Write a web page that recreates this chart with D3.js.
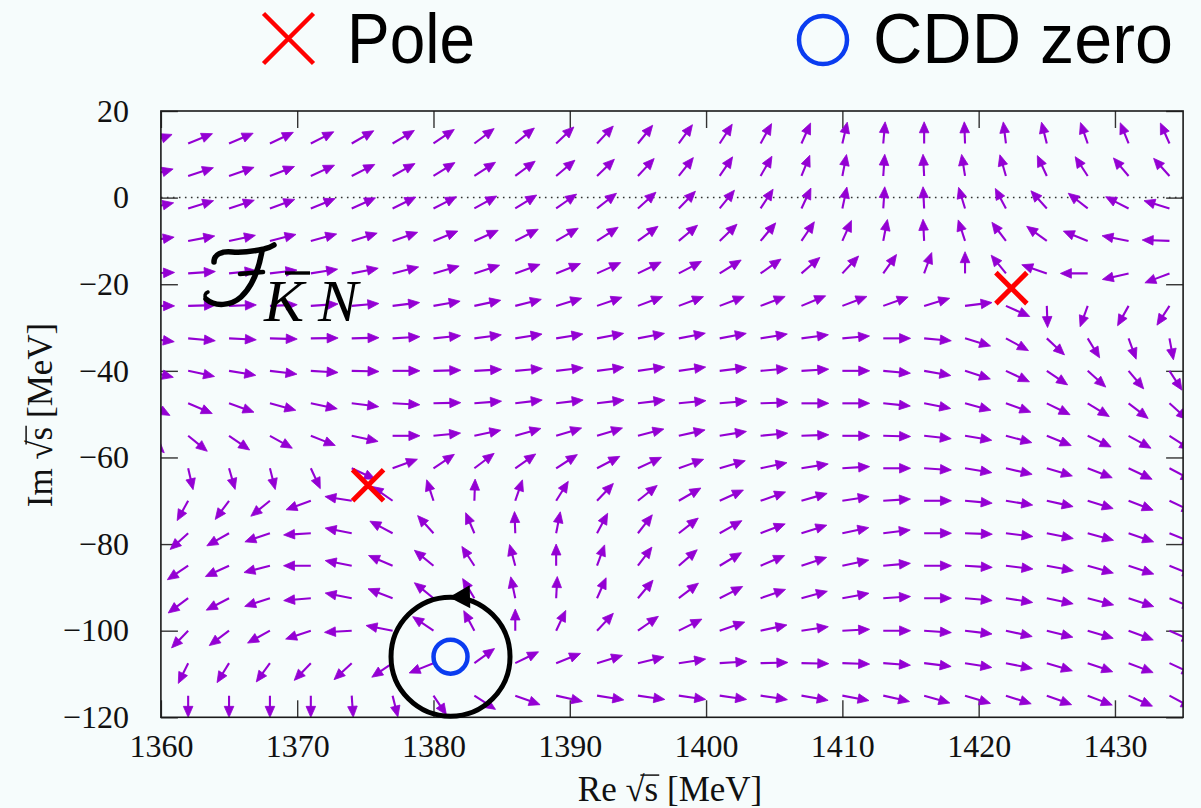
<!DOCTYPE html>
<html>
<head>
<meta charset="utf-8">
<script src="https://cdn.jsdelivr.net/npm/d3@7"></script>
<style>
  html, body { margin: 0; padding: 0; background: #f6fcfc; }
  svg { display: block; }
</style>
</head>
<body>
<svg id="chart" width="1201" height="808"></svg>
<script>
// ---- sample grid of the phase map (MeV) ----
const reGrid = [1359, 1362, 1365, 1368, 1371, 1374, 1377, 1380, 1383, 1386, 1389, 1392, 1395,
                1398, 1401, 1404, 1407, 1410, 1413, 1416, 1419, 1422, 1425, 1428, 1431, 1434];
const imGrid = [12.5, 5, -2.5, -10, -17.5, -25, -32.5, -40, -47.5, -55, -62.5, -70, -77.5,
                -85, -92.5, -100, -107.5, -115];

// arrow direction (degrees, counter-clockwise from +Re), one row per imGrid value
const arrowDeg = [
  [20, 22, 23, 25.5, 27, 30, 31, 34, 37, 39, 43, 47, 51, 54, 57, 61, 66, 77, 85, 90, 92, 97, 104, 109, 112, 114],
  [15, 18, 19, 21, 24.5, 26.6, 29, 32, 33, 36.6, 40, 44, 47, 51.6, 56, 60, 68, 79, 86, 93, 99, 106, 115, 123, 130, 132],
  [12, 17, 18, 20, 22, 24, 26, 27, 29, 32, 35, 38, 42, 46, 51, 57, 65, 78, 86, 93, 107, 118, 132, 142, 153, 163],
  [8, 10.6, 12, 14, 15, 17, 19, 22, 24, 27, 30, 33, 36, 40, 44, 50, 56, 66, 79, 93, 108, 127, 144, 158, 169, 178],
  [2, 4, 6, 7, 9, 11, 14, 16, 18, 20, 22, 24.5, 26, 28, 32, 35, 41, 47, 55, 70, 90, 129, 161, 180, -167, -159],
  [0, 1.5, 2, 2.5, 4, 5, 7, 10, 12, 14, 16.6, 19, 20.5, 20.5, 21, 21, 22.5, 21, 19.6, 16.6, 7, -24, -88, -110, -119, -123],
  [-7, -5, -3, -1.5, 0.7, 1.4, 3.5, 5.7, 7.4, 9, 9.3, 10.6, 10.6, 11, 10.6, 9.2, 7.6, 5, 0, -5, -16.6, -28.5, -43, -58.5, -70, -79.5],
  [-14, -12, -9.5, -7, -3.5, -1.4, 0, 1.4, 3, 5, 6.5, 7.5, 8, 8, 7, 5, 3.5, 0, -5, -10, -17.7, -25, -34, -42, -50, -57],
  [-28, -23, -19.6, -15, -11.6, -7, -3, 1.4, 4.5, 7, 7, 7, 7, 5.6, 4.8, 2, 0, 0, -5.7, -11, -15, -19.6, -26, -31.5, -37.7, -42],
  [-45, -39, -34.6, -29, -21.5, -12, 0, 5.7, 12, 16, 17, 17, 14.6, 12.7, 9.2, 5.5, 2, 0, -1.4, -6, -9.5, -14.7, -21.8, -25.5, -29, -33],
  [-80, -77, -74, -76, -65, -25, 20, 33.7, 37, 35, 32.8, 27.6, 25, 19.8, 16.4, 12, 9.2, 3.5, 0, -3.6, -9.2, -13, -16.6, -21, -25, -28],
  [-115, -119, -126.5, -141, -160, 171, 145, 108, 88, 71, 58, 46.7, 38.5, 30, 24.3, 19.3, 16, 9, 3.5, 0, -5, -9.2, -12.5, -17, -21, -25],
  [-130, -138, -150.5, -161, -176.5, 169, 152, 132, 113, 92, 79, 62, 52, 38, 29.6, 20.8, 17.7, 12, 7, 0, -2, -7, -11.3, -15.3, -19, -22],
  [-140, -146, -155.4, -165.4, 180, 169, 157, 141, 123, 105, 90, 70, 53, 41, 31, 23, 18.4, 12, 5, 0, -3.5, -7, -10.6, -16, -18.4, -22],
  [-138, -143.5, -152.4, -162, -175, 169, 159, 141, 121, 102, 87, 66, 50, 37.5, 27, 19.4, 15, 10.5, 3.6, 0, -5, -9, -12, -14.5, -18.4, -22],
  [-130, -134, -143, -151, -161.6, -176.5, 169, 146, 118, 90, 64.6, 46.8, 35, 26.6, 18.9, 12.3, 8.5, 2.8, 0, -4, -7, -12.5, -14, -16.6, -20.5, -24],
  [-112, -116, -121.7, -126, -134, -137, -146, -158, 36, 26, 21.8, 17, 13.5, 8.7, 3.6, 1.4, -1, -2, -4.3, -7, -9.2, -11.6, -16.6, -19, -21, -25],
  [-90, -90, -90, -90, -90, -86, -76, -56, -33, -20, -12.5, -9, -8, -8, -8, -8.5, -10, -10.5, -12.7, -16, -17, -17.8, -20, -21, -23.7, -28]
];

// singularities of the amplitude
const poles = [{ re: 1375.2, im: -66.4 }, { re: 1422.4, im: -20.9 }];
const cddZeros = [{ re: 1381.25, im: -106.0 }];

const xTicks = [1360, 1370, 1380, 1390, 1400, 1410, 1420, 1430];
const yTicks = [20, 0, -20, -40, -60, -80, -100, -120];
const xDomain = [1360, 1435];
const yDomain = [-120, 20];

// ---- layout ----
const plot = { left: 160.9, right: 1183.1, top: 111, bottom: 717.3 };
const ARROW = "#9400d3";
const serif = "'Liberation Serif', 'Times New Roman', serif";
const sans = "'Liberation Sans', Arial, Helvetica, sans-serif";

const svg = d3.select("#chart");
svg.append("rect").attr("width", 1201).attr("height", 808).attr("fill", "#f6fcfc");

const x = d3.scaleLinear().domain(xDomain).range([plot.left, plot.right]);
const y = d3.scaleLinear().domain(yDomain).range([plot.bottom, plot.top]);

svg.append("clipPath").attr("id", "plotClip")
  .append("rect")
  .attr("x", plot.left).attr("y", plot.top)
  .attr("width", plot.right - plot.left).attr("height", plot.bottom - plot.top);

// ---- axes (ticks inside on all four sides) ----
const TICK = 17;
const fmt = d3.format("d");
const axisStyle = g => {
  g.select(".domain").remove();
  g.selectAll(".tick line").attr("stroke", "#333").attr("stroke-width", 1.4);
  g.selectAll(".tick text").attr("font-family", serif).attr("font-size", 32).attr("fill", "#111");
};

svg.append("g").attr("transform", `translate(0,${plot.bottom})`)
  .call(d3.axisBottom(x).tickValues(xTicks).tickFormat(fmt).tickSizeInner(-TICK).tickSizeOuter(0).tickPadding(17))
  .call(axisStyle);
svg.append("g").attr("transform", `translate(0,${plot.top})`)
  .call(d3.axisTop(x).tickValues(xTicks).tickFormat("").tickSizeInner(-TICK).tickSizeOuter(0))
  .call(axisStyle);
svg.append("g").attr("transform", `translate(${plot.left},0)`)
  .call(d3.axisLeft(y).tickValues(yTicks).tickFormat(fmt).tickSizeInner(-TICK).tickSizeOuter(0).tickPadding(32))
  .call(axisStyle);
svg.append("g").attr("transform", `translate(${plot.right},0)`)
  .call(d3.axisRight(y).tickValues(yTicks).tickFormat("").tickSizeInner(-TICK).tickSizeOuter(0))
  .call(axisStyle);

// zero line
svg.append("line")
  .attr("x1", x(xDomain[0])).attr("x2", x(xDomain[1]))
  .attr("y1", y(0)).attr("y2", y(0))
  .attr("stroke", "#333").attr("stroke-width", 1.5).attr("stroke-dasharray", "1.6,4.4");

// ---- phase arrows ----
const field = [];
imGrid.forEach((im, j) => reGrid.forEach((re, k) => field.push({ re, im, deg: arrowDeg[j][k] })));

const AX = 27.3, AY = 21.7;         // arrow reach along Re / Im on the page
const HEAD = 11, HALF = 4.8;
const arrows = svg.append("g").attr("clip-path", "url(#plotClip)");
field.forEach(d => {
  const t = d.deg * Math.PI / 180;
  const c = Math.cos(t), s = Math.sin(t);
  const len = AX * AY / Math.sqrt((AY * c) ** 2 + (AX * s) ** 2);
  const x0 = x(d.re), y0 = y(d.im);
  const ux = c, uy = -s;
  const x1 = x0 + len * ux, y1 = y0 + len * uy;
  const bx = x1 - HEAD * ux, by = y1 - HEAD * uy;
  arrows.append("line")
    .attr("x1", x0).attr("y1", y0).attr("x2", bx + 2 * ux).attr("y2", by + 2 * uy)
    .attr("stroke", ARROW).attr("stroke-width", 2.1);
  arrows.append("path")
    .attr("d", `M${x1},${y1}L${bx - HALF * uy},${by + HALF * ux}L${bx + HALF * uy},${by - HALF * ux}Z`)
    .attr("fill", ARROW).attr("stroke", ARROW).attr("stroke-width", 0.8).attr("stroke-linejoin", "round");
});

// frame
svg.append("rect")
  .attr("x", plot.left).attr("y", plot.top)
  .attr("width", plot.right - plot.left).attr("height", plot.bottom - plot.top)
  .attr("fill", "none").attr("stroke", "#1a1a1a").attr("stroke-width", 1.6);

// ---- label of the amplitude: calligraphic F with subscript K-bar N ----
const fl = svg.append("g").attr("fill", "none").attr("stroke", "#000").attr("stroke-linecap", "round");
// swash top stroke
fl.append("path").attr("d", "M214,262 C214,254 222,251 232,252 C244,253 255,251 264,249 C268,248 271,247 274,245")
  .attr("stroke-width", 5.5);
// stem sweeping down to the left
fl.append("path").attr("d", "M262,251 C259,268 253,286 241,297 C231,306 215,307 206,299")
  .attr("stroke-width", 5.5);
fl.append("path").attr("d", "M206,299 C204,296 205,293 208,292").attr("stroke-width", 3.5);
// cross stroke
fl.append("path").attr("d", "M240,274 L263,272").attr("stroke-width", 4.5);

svg.append("text").attr("x", 264).attr("y", 321)
  .attr("font-family", serif).attr("font-style", "italic").attr("font-size", 60)
  .attr("fill", "#000").text("K");
svg.append("text").attr("x", 318).attr("y", 321)
  .attr("font-family", serif).attr("font-style", "italic").attr("font-size", 60)
  .attr("fill", "#000").text("N");
svg.append("line").attr("x1", 285).attr("x2", 310).attr("y1", 273).attr("y2", 273)
  .attr("stroke", "#000").attr("stroke-width", 3.4);

// ---- winding contour around the CDD zero ----
const z0 = cddZeros[0];
const cx = x(z0.re), cy = y(z0.im), R = 59.5;
svg.append("circle").attr("cx", cx).attr("cy", cy).attr("r", R)
  .attr("fill", "none").attr("stroke", "#000").attr("stroke-width", 5);
{
  const a = 91.5 * Math.PI / 180;
  const px = cx + R * Math.cos(a), py = cy - R * Math.sin(a);
  const tx = -Math.sin(a), ty = -Math.cos(a);      // counter-clockwise tangent
  const L = 21, W = 11.5;
  const bx = px - L * tx, by = py - L * ty;
  svg.append("path")
    .attr("d", `M${px},${py}L${bx - W * ty},${by + W * tx}L${bx + W * ty},${by - W * tx}Z`)
    .attr("fill", "#000");
}

// ---- markers ----
const crossPath = (cx, cy, r) => `M${cx - r},${cy - r}L${cx + r},${cy + r}M${cx - r},${cy + r}L${cx + r},${cy - r}`;
svg.append("g").selectAll("path").data(poles).join("path")
  .attr("d", d => crossPath(x(d.re), y(d.im), 15.5))
  .attr("stroke", "#ff0000").attr("stroke-width", 5).attr("fill", "none");
svg.append("g").selectAll("circle").data(cddZeros).join("circle")
  .attr("cx", d => x(d.re)).attr("cy", d => y(d.im)).attr("r", 17)
  .attr("fill", "none").attr("stroke", "#0a3cf0").attr("stroke-width", 4.5);

// ---- legend ----
svg.append("path").attr("d", crossPath(288.5, 38.5, 25))
  .attr("stroke", "#ff0000").attr("stroke-width", 4.5).attr("fill", "none");
svg.append("text").attr("x", 347).attr("y", 63)
  .attr("font-family", sans).attr("font-size", 70).attr("fill", "#000")
  .attr("textLength", 128).attr("lengthAdjust", "spacingAndGlyphs").text("Pole");
svg.append("circle").attr("cx", 823).attr("cy", 40).attr("r", 24)
  .attr("fill", "none").attr("stroke", "#0a3cf0").attr("stroke-width", 4.5);
svg.append("text").attr("x", 873).attr("y", 63)
  .attr("font-family", sans).attr("font-size", 70).attr("fill", "#000")
  .attr("textLength", 300).attr("lengthAdjust", "spacingAndGlyphs").text("CDD zero");

// ---- axis titles with a square-root bar over s ----
function sqrtTitle(g, label) {
  const fs = 35;
  const t = g.append("text").attr("x", 0).attr("y", 0).attr("text-anchor", "middle")
    .attr("font-family", serif).attr("font-size", fs).attr("fill", "#111")
    .text(label + " \u221As [MeV]");
  const i = label.length + 2;                  // index of "s"
  const node = t.node();
  const p0 = node.getStartPositionOfChar(i - 1);
  const p1 = node.getEndPositionOfChar(i);
  const rootW = node.getEndPositionOfChar(i - 1).x - p0.x;
  g.append("line")
    .attr("x1", p0.x + rootW * 0.78).attr("x2", p1.x + 1)
    .attr("y1", -fs * 0.74).attr("y2", -fs * 0.74)
    .attr("stroke", "#111").attr("stroke-width", 1.5);
}
sqrtTitle(svg.append("g").attr("transform", "translate(670,801)"), "Re");
sqrtTitle(svg.append("g").attr("transform", "translate(52,415) rotate(-90)"), "Im");
</script>
</body>
</html>
